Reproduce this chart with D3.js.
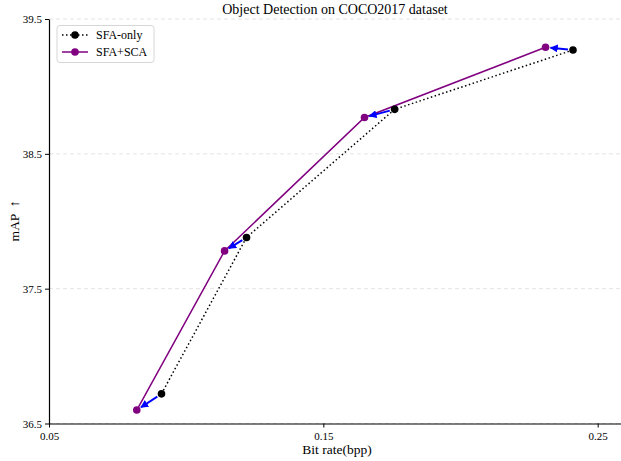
<!DOCTYPE html>
<html><head><meta charset="utf-8">
<script src="https://cdn.jsdelivr.net/npm/d3@7"></script>
<style>body{margin:0;background:#fff}text{font-family:"Liberation Serif","Times New Roman",serif}</style>
</head><body><svg id="c" width="621" height="461"></svg>
<script>
const bitSFA = [0.091, 0.122, 0.176, 0.241];
const mapSFA = [36.72, 37.88, 38.83, 39.27];
const bitSCA = [0.082, 0.114, 0.165, 0.231];
const mapSCA = [36.60, 37.78, 38.77, 39.29];
const xTicks = [0.05, 0.15, 0.25];
const yTicks = [36.5, 37.5, 38.5, 39.5];
const seriesNames = ["SFA-only", "SFA+SCA"];

const svg = d3.select("#c");
const x = d3.scaleLinear().domain([0.05, 0.2585]).range([49, 621]);
const y = d3.scaleLinear().domain([36.5, 39.5]).range([423.5, 19]);

const defs = svg.append("defs");
defs.append("marker").attr("id","ah").attr("viewBox","0 0 10 10").attr("refX",9).attr("refY",5)
  .attr("markerWidth",4).attr("markerHeight",4).attr("orient","auto")
  .append("path").attr("d","M0,0 L10,5 L0,10 z").attr("fill","#0000ff");

// grid
svg.append("g").selectAll("line").data(yTicks).join("line")
  .attr("x1",49).attr("x2",621).attr("y1",d=>y(d)).attr("y2",d=>y(d))
  .attr("stroke","#dddddd").attr("stroke-dasharray","4,3").attr("stroke-width",0.8);

// axes
const xa = svg.append("g").attr("transform",`translate(0,${y(36.5)})`)
  .call(d3.axisBottom(x).tickValues(xTicks).tickFormat(d3.format(".2f")).tickSize(4).tickSizeOuter(0));
const ya = svg.append("g").attr("transform",`translate(${x(0.05)},0)`)
  .call(d3.axisLeft(y).tickValues(yTicks).tickFormat(d3.format(".1f")).tickSize(4).tickSizeOuter(0));
[xa,ya].forEach(a=>{a.select(".domain").attr("stroke","#000").attr("stroke-width",1.2);
  a.selectAll(".tick line").attr("stroke","#000");
  a.selectAll(".tick text").attr("font-size",11).attr("fill","#000").style("font-family","Liberation Serif");});
xa.selectAll(".tick text").attr("dy","0.9em");

const sfa = bitSFA.map((b,i)=>[b,mapSFA[i]]);
const sca = bitSCA.map((b,i)=>[b,mapSCA[i]]);
const line = d3.line().x(d=>x(d[0])).y(d=>y(d[1]));

svg.append("path").datum(sfa).attr("d",line).attr("fill","none").attr("stroke","#000")
  .attr("stroke-width",1.5).attr("stroke-dasharray","1.5,2.5");
svg.append("path").datum(sca).attr("d",line).attr("fill","none").attr("stroke","#800080")
  .attr("stroke-width",1.5);

// arrows
svg.append("g").selectAll("line").data(sfa.map((d,i)=>[d,sca[i]])).join("line")
  .each(function(p){
    const x1=x(p[0][0]),y1=y(p[0][1]),x2=x(p[1][0]),y2=y(p[1][1]);
    const dx=x2-x1,dy=y2-y1,L=Math.hypot(dx,dy);
    const s1=5/L,s2=5/L;
    d3.select(this).attr("x1",x1+dx*s1).attr("y1",y1+dy*s1).attr("x2",x2-dx*s2).attr("y2",y2-dy*s2);
  })
  .attr("stroke","#0000ff").attr("stroke-width",2).attr("marker-end","url(#ah)");

svg.append("g").selectAll("circle").data(sfa).join("circle")
  .attr("cx",d=>x(d[0])).attr("cy",d=>y(d[1])).attr("r",3.8).attr("fill","#000");
svg.append("g").selectAll("circle").data(sca).join("circle")
  .attr("cx",d=>x(d[0])).attr("cy",d=>y(d[1])).attr("r",3.8).attr("fill","#800080");

// title & labels
svg.append("text").attr("x",335).attr("y",14).attr("text-anchor","middle").attr("font-size",14).text("Object Detection on COCO2017 dataset");
svg.append("text").attr("x",337).attr("y",454).attr("text-anchor","middle").attr("font-size",13.5).text("Bit rate(bpp)");
svg.append("text").attr("transform","translate(19,221) rotate(-90)").attr("text-anchor","middle").attr("font-size",13.5)
  .style("white-space","pre").text("mAP  ↑");

// legend
const lg = svg.append("g");
lg.append("rect").attr("x",57).attr("y",25.5).attr("width",97).attr("height",37).attr("rx",3)
  .attr("fill","#fff").attr("stroke","#cccccc").attr("stroke-width",0.8);
const colors=["#000","#800080"], dashes=["1.5,2.5",null];
seriesNames.forEach((n,i)=>{
  const yy=35+i*17;
  lg.append("line").attr("x1",62).attr("x2",88).attr("y1",yy).attr("y2",yy).attr("stroke",colors[i])
    .attr("stroke-width",1.5).attr("stroke-dasharray",dashes[i]);
  lg.append("circle").attr("cx",75).attr("cy",yy).attr("r",3.8).attr("fill",colors[i]);
  lg.append("text").attr("x",96).attr("y",yy+4).attr("font-size",12).text(n);
});
</script></body></html>
